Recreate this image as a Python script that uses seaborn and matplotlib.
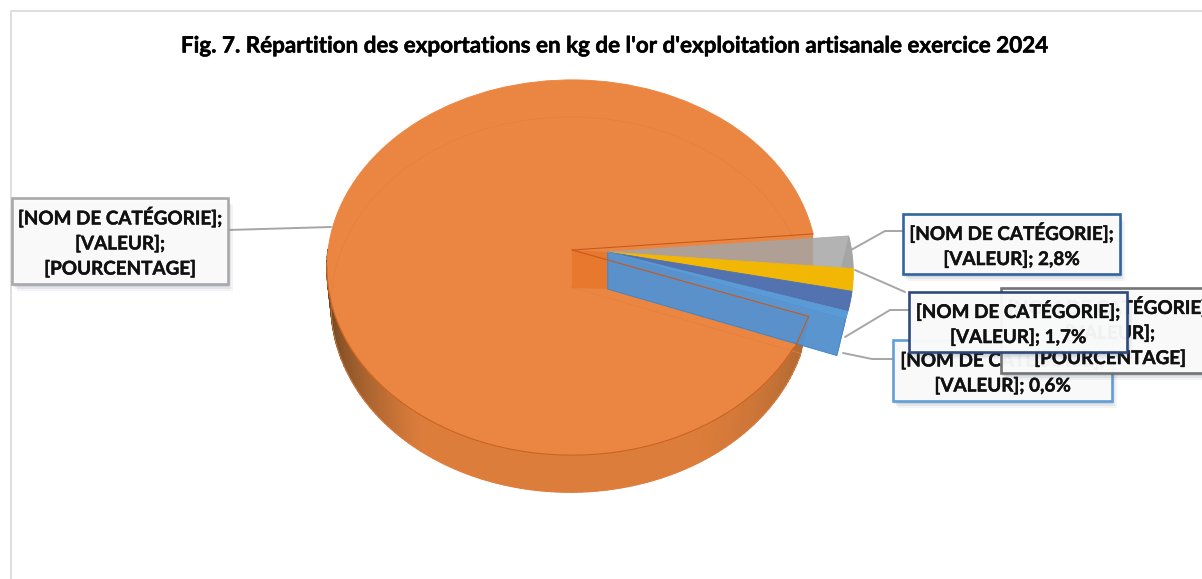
import numpy as np
import matplotlib
matplotlib.use("Agg")
import matplotlib.pyplot as plt
import matplotlib.patheffects as pe
import seaborn as sns
from matplotlib.transforms import Transform
from matplotlib.patches import Rectangle, Polygon
from matplotlib.colors import to_rgb

# ---- data ----
categories = ["[NOM DE CATÉGORIE]"] * 5
values = [2.8, 1.9, 1.7, 0.6, 93.0]          # gray, yellow, dark blue, blue, orange (share, %)
slice_colors = ["#A5A5A5", "#F2B705", "#5272B0", "#5B9BD5", "#EA8642"]
title = "Fig. 7. Répartition des exportations en kg de l'or d'exploitation artisanale exercice 2024"
labels = [
    "[NOM DE CATÉGORIE];\n[VALEUR];\n[POURCENTAGE]",
    "[NOM DE CATÉGORIE];\n[VALEUR]; 2,8%",
    "[NOM DE CATÉGORIE];\n[VALEUR]; 0,6%",
    "[NOM DE CATÉGORIE];\n[VALEUR];\n[POURCENTAGE]",
    "[NOM DE CATÉGORIE];\n[VALEUR]; 1,7%",
]

# ---- layout / style ----
W, H = 1202, 579
CX, CY, A, B, K = 572.0, 250.0, 244.0, 186.0, 0.0933
DEPTH = 37
START = 5.0
EXPLODE = (0.146, -0.011)
FONT = "Lato"

sns.set_theme(style="white")
plt.rcParams["font.family"] = [FONT, "DejaVu Sans"]


class Tilt(Transform):
    """Perspective view of the unit disc lying on a table."""
    input_dims = output_dims = 2
    is_separable = False
    has_inverse = False

    def __init__(self, dy=0.0, sx=1.0, dx=0.0):
        super().__init__()
        self.dy, self.sx, self.dx = dy, sx, dx

    def transform_non_affine(self, xy):
        xy = np.asarray(xy, float)
        w = 1 + K * xy[:, 1]
        return np.column_stack([CX + self.dx + self.sx * A * xy[:, 0] / w,
                                CY - B * xy[:, 1] / w + self.dy])


top, bottom = Tilt(), Tilt(DEPTH, 0.975, -2.0)
fig = plt.figure(figsize=(W / 100, H / 100), dpi=100, facecolor="white")
ax = fig.add_axes([0, 0, 1, 1])

frac = np.asarray(values) / np.sum(values) * 360
ends = START - np.cumsum(frac)
starts = np.r_[START, ends[:-1]]


def unit(theta, off=(0, 0)):
    t = np.radians(np.atleast_1d(theta))
    return np.column_stack([off[0] + np.cos(t), off[1] + np.sin(t)])


wedges, _ = ax.pie(values, colors=slice_colors, startangle=START, counterclock=False,
                   wedgeprops=dict(linewidth=0.6, zorder=5))
under, _ = ax.pie(values, colors=["none"] * 5, startangle=START, counterclock=False,
                  wedgeprops=dict(linewidth=0.5, edgecolor="#E28040", zorder=5.2))
ax.set_aspect("auto")
ax.set_xlim(0, W)
ax.set_ylim(H, 0)
ax.axis("off")

slice_alpha = [0.84, 1.0, 1.0, 1.0]
for i, (w, b) in enumerate(zip(wedges, under)):
    w.set_transform(top + ax.transData)
    b.set_transform(bottom + ax.transData)
    if i < 4:
        b.remove()
        w.set_center(EXPLODE)
        w.set_alpha(slice_alpha[i])
        w.set_edgecolor(slice_colors[i])
        w.set_zorder(9)
    else:
        w.set_edgecolor("#EA8642")
        b.set_clip_path(w)


def px(tr, pts):
    return tr.transform_non_affine(np.atleast_2d(pts))


# orange rim with a dark-to-light sweep
dark, mid, right = [np.array(to_rgb(c)) for c in ("#6A4420", "#DC7D3B", "#A9652F")]
th = np.linspace(ends[3], ends[4], 300)
for t0, t1 in zip(th[:-1], th[1:]):
    if np.sin(np.radians((t0 + t1) / 2)) > 0:
        continue
    c0 = np.cos(np.radians((t0 + t1) / 2))
    if c0 < 0:
        s = min(1.0, (1 + c0) / 0.42) ** 0.75
        col = dark + (mid - dark) * s
    else:
        s = max(0.0, (c0 - 0.45) / 0.55) ** 1.5
        col = mid + (right - mid) * s
    tt = unit([t0, t1])
    ax.add_patch(Polygon(np.vstack([px(top, tt), px(bottom, tt)[::-1]]), fc=col, ec=col, lw=1.0, zorder=3))

# front edge of the top face
tf = np.linspace(-175, -30, 120)
ax.plot(*px(top, unit(tf)).T, color="#C9631F", lw=0.8, zorder=5.5)

# walls of the orange body: back wall in the gap, inner block beside the detached slices
p0 = px(top, [0.0, 0.0])[0]
p0b = p0 + [0, DEPTH + 1]
a0 = px(top, unit(starts[0]))[0]
a1 = px(top, unit(ends[3]))[0]
e0 = px(top, EXPLODE)[0]
e0b = px(bottom, EXPLODE)[0] + [3, 0]
ax.add_patch(Polygon([p0, a0, a0 + [0, DEPTH], p0b], fc="#EA8642", ec="none", zorder=2))
ax.add_patch(Polygon([p0, e0, e0b, p0b], fc="#E7782E", ec="none", zorder=5.3))

# rim and cut wall of the detached slices
for i in range(4):
    tt = unit(np.linspace(starts[i], ends[i], 16), EXPLODE)
    ax.add_patch(Polygon(np.vstack([px(top, tt), px(bottom, tt)[::-1]]), fc=slice_colors[i],
                         ec="none", zorder=7))
e1 = px(top, unit(ends[3], EXPLODE))[0]
e1b = px(bottom, unit(ends[3], EXPLODE))[0]
ax.add_patch(Polygon([e0, e1, e1b, e0b], fc="#5592CF", ec="#3F85C6", lw=0.7, alpha=0.97, zorder=8))

# orange cut edges, visible through the slices
for end in (a0, a1):
    ax.plot([p0[0], end[0]], [p0[1], end[1]], color="#C9591A", lw=0.8, zorder=10)
ax.plot([a1[0], a1[0] - 14], [a1[1], a1[1] + 32], color="#C9591A", lw=0.8, zorder=10)

# chart frame and title
ax.plot([10.5, 10.5, W], [H, 10.5, 10.5], color="#D9D9D9", lw=1.2, zorder=1)
ax.text(614, 46, title, ha="center", va="center", fontsize=16.15, fontweight="bold", color="black",
        zorder=20, path_effects=[pe.withStroke(linewidth=0.35, foreground="black")])

# leader lines
leaders = [
    [(228, 230), (331, 227)],
    [(851, 250), (885, 231), (903, 231)],
    [(855, 270), (905, 292)],
    [(845, 337), (890, 310), (909, 310)],
    [(843, 353), (872, 359), (893, 359)],
]
for seg in leaders:
    xs, ys = zip(*seg)
    ax.plot(xs, ys, color="#A6A6A6", lw=1.4, zorder=11)

# label boxes: x0, y0, x1, y1, border, z
boxes = [
    (12, 198, 228, 284, "#A6A6A6", 12),
    (903, 214, 1120, 274, "#2A6099", 13),
    (893, 340, 1112, 401, "#5B9BD5", 14),
    (1001, 288, 1219, 373, "#6E6E6E", 15),
    (909, 292, 1127, 352, "#264478", 16),
]
for (x0, y0, x1, y1, ec, z), txt in zip(boxes, labels):
    for d, al in ((7, 0.06), (5, 0.09), (3, 0.13)):
        ax.add_patch(Rectangle((x0 + d - 2, y0 + d), x1 - x0, y1 - y0, fc="#44546A", ec="none",
                               alpha=al, zorder=z))
    ax.add_patch(Rectangle((x0, y0), x1 - x0, y1 - y0, fc="#FBFBFB", ec=ec, lw=1.9,
                           alpha=0.96, zorder=z + 0.1))
    ax.text((x0 + x1) / 2, (y0 + y1) / 2 + 1, txt, ha="center", va="center", fontsize=13.6,
            fontweight="bold", color="#111111", linespacing=1.47, zorder=z + 0.2,
            path_effects=[pe.withStroke(linewidth=0.3, foreground="#111111")])

fig.savefig("out.png", dpi=100)
